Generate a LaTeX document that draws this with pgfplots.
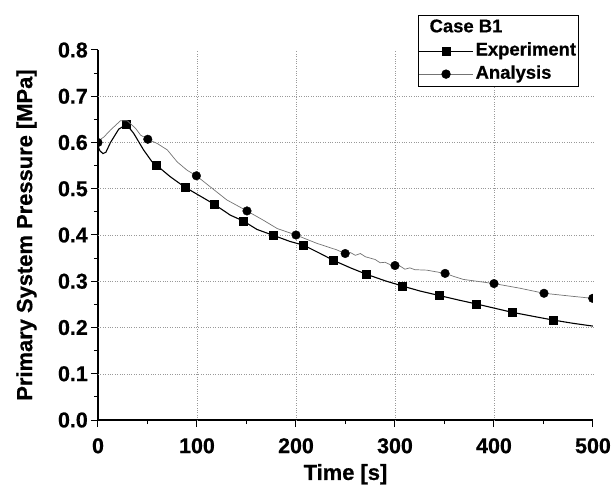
\documentclass[border=0pt]{standalone}
\usepackage{fontspec}
\setmainfont{Liberation Sans}[BoldFeatures={FakeBold=0.6}]
\usepackage{pgfplots}
\pgfplotsset{compat=1.18}

% Experimental pressure trace (black) and its markers
\pgfplotstableread{
t p
0 0.592
2 0.582
5 0.576
8 0.579
12.6 0.600
21 0.629
28.8 0.639
36 0.620
46 0.584
54.7 0.558
59 0.551
73 0.526
88 0.503
93 0.497
117 0.467
133.6 0.443
147 0.430
160.6 0.412
177.4 0.399
194 0.386
207.7 0.378
224.5 0.360
238 0.345
255 0.329
271.3 0.315
290 0.301
307 0.290
325 0.279
345 0.269
365 0.259
382 0.251
400 0.242
418 0.233
440 0.224
460 0.216
480 0.209
500 0.203
}\expline

\pgfplotstableread{
t p
28.8 0.639
59 0.551
88 0.503
117 0.467
147 0.430
177.4 0.399
207.7 0.378
238 0.345
271.3 0.315
307 0.290
345 0.269
382 0.251
418 0.233
460 0.216
}\expmarks

% Calculated pressure trace (grey) and its markers
\pgfplotstableread{
t p
0 0.603
6 0.612
12.6 0.627
22.7 0.647
29.5 0.647
37.8 0.631
43 0.616
50.3 0.607
59.7 0.598
70 0.584
80 0.558
90 0.540
99.4 0.528
113.5 0.504
130 0.476
150.5 0.452
167 0.432
181 0.414
200 0.400
221 0.382
241 0.368
249.7 0.360
255 0.362
260 0.356
265 0.360
270 0.353
275 0.350
280 0.347
285 0.340
290 0.341
295 0.336
300 0.334
305 0.333
310 0.326
315 0.329
320 0.325
332 0.324
340 0.321
350.6 0.317
360 0.310
369 0.304
386 0.299
400 0.295
426 0.285
450.5 0.274
476.8 0.268
499.7 0.263
}\analine

\pgfplotstableread{
t p
0 0.600
50.3 0.607
99.4 0.528
150.5 0.452
200 0.400
249.7 0.360
300 0.334
350.6 0.317
400 0.295
450.5 0.274
499.7 0.263
}\anamarks

\begin{document}
\begin{tikzpicture}
\useasboundingbox (-98bp,-77bp) rectangle (516bp,420bp);
\begin{axis}[
  at={(0,0)}, anchor=south west,
  scale only axis,
  width=495bp, height=370bp,
  xmin=0, xmax=500, ymin=0, ymax=0.8,
  axis x line*=bottom, axis y line*=left,
  axis line style={line width=1.5bp},
  xtick={0,100,...,500},
  ytick={0,0.1,...,0.8},
  minor x tick num=1, minor y tick num=1,
  tick align=outside,
  major tick length=7bp, minor tick length=4bp,
  tick style={black, line width=1bp},
  /pgf/number format/assume math mode=true,
  yticklabel style={/pgf/number format/fixed, /pgf/number format/fixed zerofill,
    /pgf/number format/precision=1, anchor=east, inner sep=0pt, xshift=-3bp},
  xticklabel style={anchor=north, inner sep=0pt, yshift=-11bp},
  ticklabel style={font=\fontsize{21.5}{24}\selectfont\bfseries},
  extra x ticks={100,200,300,400},
  extra x tick labels={,,,},
  extra x tick style={grid=major, major tick length=0pt},
  extra y ticks={0.1,0.2,0.3,0.4,0.5,0.6,0.7},
  extra y tick labels={,,,,,,},
  extra y tick style={grid=major, major tick length=0pt},
  major grid style={dotted, black!40, line width=0.5bp},
  xlabel={Time [s]},
  ylabel={Primary System Pressure [MPa]},
  label style={font=\fontsize{22}{26}\selectfont\bfseries},
  xlabel style={at={(axis description cs:0.5,-0.162)}, anchor=base},
  ylabel style={at={(axis description cs:-0.133,0.5)}, anchor=base},
  clip marker paths=true,
  legend style={at={(0.972,1.094)}, anchor=north east,
    draw=black, line width=0.8bp, inner sep=0.5bp,
    font=\fontsize{18.5}{22}\selectfont\bfseries,
    row sep=0pt,
    nodes={inner sep=2.2bp, text height=14bp, text depth=4.8bp}},
  legend cell align=left,
  legend image code/.code={%
    \draw[mark repeat=2, mark phase=2, #1] plot coordinates {(0bp,0bp) (27bp,0bp) (54bp,0bp)};},
]
\addplot[black, line width=1.1bp, forget plot] table[x=t, y=p] {\expline};
\addplot[only marks, mark=square*, mark size=4bp, black, forget plot] table[x=t, y=p] {\expmarks};
\addplot[black!55, line width=0.7bp, forget plot] table[x=t, y=p] {\analine};
\addplot[only marks, mark=*, mark size=4.3bp, black, forget plot] table[x=t, y=p] {\anamarks};

\addlegendimage{empty legend}
\addlegendentry{\makebox[0pt][l]{\hspace*{-46bp}Case B1}}
\addlegendimage{black, line width=0.8bp, mark=square*, mark size=4bp, mark options={solid, fill=black}}
\addlegendentry{Experiment}
\addlegendimage{black!55, line width=0.7bp, mark=*, mark size=4.3bp, mark options={solid, fill=black, draw=black}}
\addlegendentry{Analysis}
\end{axis}
\end{tikzpicture}
\end{document}
